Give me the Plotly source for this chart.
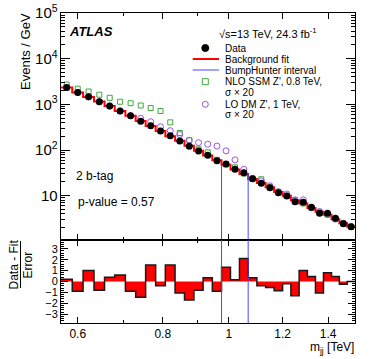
import numpy as np
import plotly.graph_objects as go
from plotly.subplots import make_subplots

# bin edges in GeV (ATLAS resolution binning)
edges_gev = [567, 589, 611, 634, 657, 680, 705, 730, 755, 781, 807, 834, 861, 889,
             917, 946, 976, 1006, 1037, 1068, 1100, 1133, 1166, 1200, 1234, 1269,
             1305, 1341, 1378, 1416, 1454, 1493, 1533]

# events / GeV
data = [2339, 1816, 1463, 1142, 920, 715, 561, 427, 339, 261, 205, 157, 121, 95.0,
        76.9, 58.3, 49.4, 37.8, 31.8, 23.5, 18.7, 15.0, 11.6, 9.84, 7.38, 7.16, 5.57,
        4.11, 4.11, 3.20, 2.44, 2.09]
bkg_fit = [2337, 1824, 1455, 1148, 917, 712, 565, 433, 334, 262, 201, 160, 124.5, 96.5,
           76.3, 59.6, 47.7, 37.6, 29.7, 23.2, 19.0, 15.4, 12.1, 9.95, 7.98, 6.71, 5.39,
           4.46, 3.85, 3.07, 2.50, 2.09]
ssm_zp = [2718, 2199, 1911, 1626, 1391, 1142, 1059, 944, 832, 715, 404, 236, 163, 104,
          89, 61, 48.5, 41.8, 30.5, 23.8, 22.9, 15.6, 12.2, 10.0, 8.0, 6.75, 5.4, 4.47,
          3.86, 3.08, 2.5, 2.1]
dm_zp = [2337, 1824, 1455, 1148, 917, 712, 565, 494, 417, 324, 265, 219, 164, 145,
         134, 122, 96, 61, 37.8, 23.8, 21.2, 16.5, 12.2, 10.9, 8.1, 8.13, 5.4, 4.47,
         3.86, 3.08, 2.5, 2.1]
# (data - fit) / error
pull = [0.2, -0.9, 1.0, -0.8, 0.4, 0.6, -0.9, -1.45, 1.5, -0.4, 1.5, -1.05, -1.7, -0.8,
        0.35, -0.9, 1.3, 0.15, 2.1, 0.35, -0.4, -0.55, -0.85, -0.2, -1.3, 1.0, 0.45,
        -1.05, 0.8, 0.45, -0.25, 0.0]

bumphunter = [0.976, 1.068]  # TeV
x_ticks = [0.6, 0.8, 1, 1.2, 1.4]

edges = np.array(edges_gev) / 1000.0
centers = 0.5 * (edges[:-1] + edges[1:])
FONT = "Liberation Sans, Arial, sans-serif"

fig = make_subplots(rows=2, cols=1, shared_xaxes=True, vertical_spacing=0,
                    row_heights=[0.7323, 0.2677])

# signals
fig.add_trace(go.Scatter(x=centers, y=ssm_zp, mode="markers",
                         marker=dict(symbol="square-open", size=5, color="#3fa93f",
                                     line=dict(width=1))), row=1, col=1)
fig.add_trace(go.Scatter(x=centers, y=dm_zp, mode="markers",
                         marker=dict(symbol="circle-open", size=6, color="#a050f0",
                                     line=dict(width=1))), row=1, col=1)

# background fit step
fig.add_trace(go.Scatter(x=edges, y=bkg_fit + [bkg_fit[-1]], mode="lines",
                         line=dict(shape="hv", color="#ff0000", width=2)), row=1, col=1)

# bumphunter interval lines
i_lo = int(np.argmin(np.abs(edges - bumphunter[0])))
i_hi = int(np.argmin(np.abs(edges - bumphunter[1]))) - 1
fig.add_trace(go.Scatter(x=[bumphunter[0], bumphunter[0], None, bumphunter[1], bumphunter[1]],
                         y=[0.5, data[i_lo], None, 0.5, data[i_hi]], mode="lines",
                         line=dict(color="#4646ff", width=1)), row=1, col=1)

# data
fig.add_trace(go.Scatter(x=centers, y=data, mode="markers",
                         marker=dict(symbol="circle", size=7, color="black")), row=1, col=1)

# ratio panel
fig.add_trace(go.Scatter(x=edges, y=pull + [pull[-1]], mode="lines", fill="tozeroy",
                         fillcolor="#ff0000",
                         line=dict(shape="hv", color="#1a1a1a", width=1.5)), row=2, col=1)
fig.add_trace(go.Scatter(x=[bumphunter[0], bumphunter[0], None, bumphunter[1], bumphunter[1]],
                         y=[-10, 10, None, -10, 10], mode="lines",
                         line=dict(color="#4646ff", width=1)), row=2, col=1)

axis_common = dict(showline=True, linecolor="black", linewidth=1, mirror="ticks",
                   ticks="inside", tickcolor="black", showgrid=False, zeroline=False,
                   automargin=False, ticklabeloverflow="allow")

fig.update_xaxes(type="log", range=[np.log10(edges[0]), np.log10(edges[-1])],
                 tickvals=x_ticks, ticktext=["0.6", "0.8", "1", "1.2", "1.4"], ticklen=6,
                 minor=dict(tickvals=[0.7, 0.9], ticklen=3, ticks="inside", tickcolor="black"),
                 tickfont=dict(size=12, color="black", family=FONT), **axis_common)
fig.update_yaxes(type="log", range=[0.03, 5], dtick=1, exponentformat="power", ticklen=9,
                 minor=dict(dtick="D1", ticklen=4, ticks="inside", tickcolor="black"),
                 tickfont=dict(size=12, color="black", family=FONT), row=1, col=1, **axis_common)
fig.update_yaxes(range=[-3.8, 3.8], tickvals=[-3, -2, -1, 0, 1, 2, 3], ticklen=7,
                 minor=dict(dtick=0.2, ticklen=3, ticks="inside", tickcolor="black"),
                 tickfont=dict(size=11, color="black", family=FONT), row=2, col=1, **axis_common)


def px(xp, yp):
    # pixel -> paper coords (plot frame spans x 61..355, y 13..323)
    return (xp - 61) / 294.0, (323 - yp) / 310.0


annotations = []


def text(s, xp, yp, size=10, xanchor="left", **kw):
    x, y = px(xp, yp)
    annotations.append(dict(text=s, x=x, y=y, xref="paper", yref="paper", showarrow=False,
                            xanchor=xanchor, yanchor="middle",
                            font=dict(size=size, color="black", family=FONT), **kw))


text("<b><i>ATLAS</i></b>", 67, 32, size=13)
text("√s=13 TeV, 24.3 fb<sup>-1</sup>", 217, 33, size=11)
text("Data", 223, 48)
text("Background fit", 223, 59)
text("BumpHunter interval", 223, 70)
text("NLO SSM Z', 0.8 TeV,", 223, 81.7)
text("σ × 20", 223, 92.3)
text("LO DM Z', 1 TeV,", 223, 104.3)
text("σ × 20", 223, 115)
text("2 b-tag", 74, 176, size=12)
text("p-value = 0.57", 76, 202, size=12)
text("Events / GeV", 25, 52, size=13, xanchor="center", textangle=-90)
text("Data - Fit", 13.5, 264, size=12, xanchor="center", textangle=-90)
text("Error", 27.5, 265, size=12, xanchor="center", textangle=-90)
text("m<sub>jj</sub> [TeV]", 356, 348, size=12, xanchor="right")

shapes = []
lx, _ = px(205.3, 0)
for yp, kind, col in [(48, "circle", "black"), (81.7, "rect", "#3fa93f"), (104.3, "circle", "#a050f0")]:
    _, ly = px(0, yp)
    r = 3.5 if col == "black" else 3
    shapes.append(dict(type=kind, xref="paper", yref="paper", xsizemode="pixel", ysizemode="pixel",
                       xanchor=lx, yanchor=ly, x0=-r, x1=r, y0=-r, y1=r,
                       line=dict(color=col, width=1),
                       fillcolor="black" if col == "black" else "rgba(0,0,0,0)"))
for yp, col, w in [(59, "#ff0000", 2), (70, "#4646ff", 1)]:
    x0, y = px(192.7, yp)
    x1, _ = px(219, yp)
    shapes.append(dict(type="line", xref="paper", yref="paper", x0=x0, x1=x1, y0=y, y1=y,
                       line=dict(color=col, width=w)))
x0, y0 = px(20.5, 241)
_, y1 = px(20.5, 288)
shapes.append(dict(type="line", xref="paper", yref="paper", x0=x0, x1=x0, y0=y0, y1=y1,
                   line=dict(color="black", width=1)))

fig.update_layout(width=374, height=359, margin=dict(l=61, r=19, t=13, b=36),
                  showlegend=False, plot_bgcolor="white", paper_bgcolor="white",
                  font=dict(family=FONT, color="black"),
                  annotations=annotations, shapes=shapes)

# drop the default 8px page margin so the figure fills the window
fig.write_html("out.html", config={"displayModeBar": False},
               post_script="document.body.style.margin = '0';")
